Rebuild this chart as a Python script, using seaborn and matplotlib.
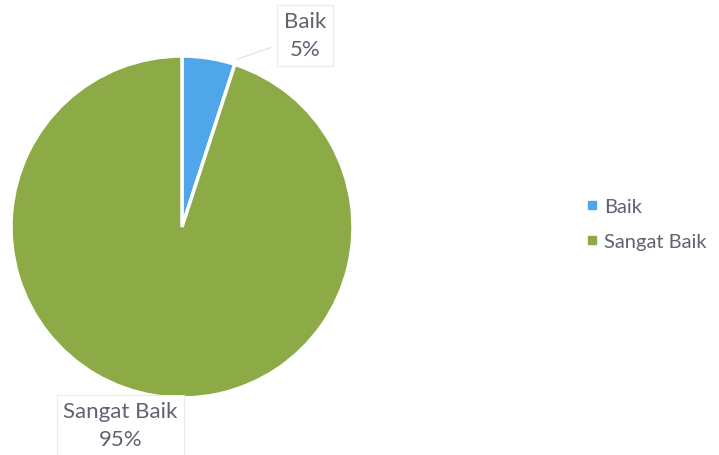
import matplotlib
matplotlib.use("Agg")
import matplotlib.pyplot as plt
import seaborn as sns

categories = ["Baik", "Sangat Baik"]
values = [5, 95]
colors = ["#4FA6E9", "#8CAB46"]

sns.set_style("white")
plt.rcParams['font.family'] = ['Lato', 'DejaVu Sans']

fig = plt.figure(figsize=(7.19, 4.56), dpi=100)
W, H = 719, 456
cx, cy, r = 182, 228, 171
ax = fig.add_axes([(cx - r) / W, (H - cy - r) / H, 2 * r / W, 2 * r / H])
wedges, _ = ax.pie(values, colors=colors, startangle=90, counterclock=False,
                   radius=1, wedgeprops=dict(edgecolor="white", linewidth=2.5))
ax.set_xlim(-1, 1)
ax.set_ylim(-1, 1)
ax.set_aspect("equal")
ax.axis("off")

text_col = "#5F6270"
label_pos = [(0.72, 1.12), (-0.36, -1.16)]
for cat, v, (lx, ly) in zip(categories, values, label_pos):
    ax.text(lx, ly, f"{cat}\n{v}%", ha="center", va="center", fontsize=16,
            color=text_col, linespacing=1.5, clip_on=False,
            bbox=dict(boxstyle="square,pad=0.3", fc="white", ec="#EBEBEB", lw=0.8))
# faint leader line for Baik label
ax.plot([0.32, 0.52], [0.98, 1.05], color="#E0E0E0", lw=0.8, clip_on=False)

handles = [plt.Line2D([], [], marker="s", ls="", color=c, markersize=6) for c in colors]
fig.legend(handles, categories, loc="center left", bbox_to_anchor=(582 / W, 1 - 225 / H),
           frameon=False, fontsize=14.5, labelcolor=text_col, handletextpad=0.1,
           labelspacing=0.85, handlelength=1.0, borderpad=0, borderaxespad=0)

fig.savefig("out.png", dpi=100)
